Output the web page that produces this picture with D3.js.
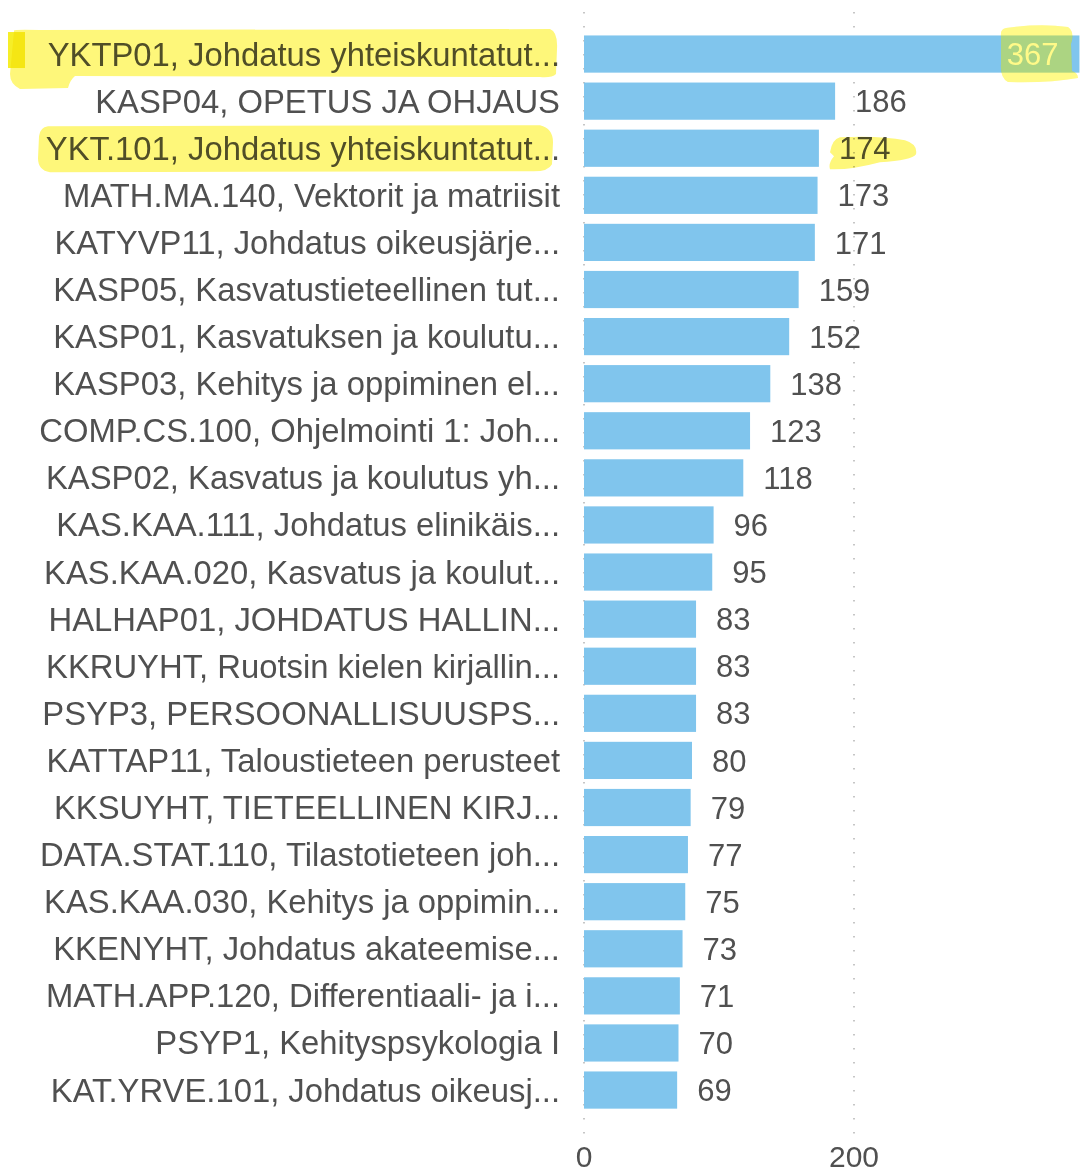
<!DOCTYPE html>
<html>
<head>
<meta charset="utf-8">
<script src="https://cdn.jsdelivr.net/npm/d3@7"></script>
<style>
  html, body { margin: 0; padding: 0; background: #ffffff; }
  svg { display: block; }
  .hl { mix-blend-mode: multiply; }
</style>
</head>
<body>
<svg id="chart" width="1084" height="1175"></svg>
<script>
const categories = [
  "YKTP01, Johdatus yhteiskuntatut...",
  "KASP04, OPETUS JA OHJAUS",
  "YKT.101, Johdatus yhteiskuntatut...",
  "MATH.MA.140, Vektorit ja matriisit",
  "KATYVP11, Johdatus oikeusjärje...",
  "KASP05, Kasvatustieteellinen tut...",
  "KASP01, Kasvatuksen ja koulutu...",
  "KASP03, Kehitys ja oppiminen el...",
  "COMP.CS.100, Ohjelmointi 1: Joh...",
  "KASP02, Kasvatus ja koulutus yh...",
  "KAS.KAA.111, Johdatus elinikäis...",
  "KAS.KAA.020, Kasvatus ja koulut...",
  "HALHAP01, JOHDATUS HALLIN...",
  "KKRUYHT, Ruotsin kielen kirjallin...",
  "PSYP3, PERSOONALLISUUSPS...",
  "KATTAP11, Taloustieteen perusteet",
  "KKSUYHT, TIETEELLINEN KIRJ...",
  "DATA.STAT.110, Tilastotieteen joh...",
  "KAS.KAA.030, Kehitys ja oppimin...",
  "KKENYHT, Johdatus akateemise...",
  "MATH.APP.120, Differentiaali- ja i...",
  "PSYP1, Kehityspsykologia I",
  "KAT.YRVE.101, Johdatus oikeusj..."
];
const values = [367, 186, 174, 173, 171, 159, 152, 138, 123, 118, 96, 95, 83, 83, 83, 80, 79, 77, 75, 73, 71, 70, 69];
const tickValues = [0, 200];
const highlightedRows = [0, 2];

const svg = d3.select("#chart");
const FONT = "'Liberation Sans', Arial, sans-serif";

const x = d3.scaleLinear().domain([0, 370]).range([584, 584 + 370 * 1.35]);
const y = d3.scaleBand().domain(categories).range([30.5, 1113.6]).paddingInner(0.21).paddingOuter(0.105);

// gridlines (dotted)
svg.append("g").selectAll("line").data(tickValues).join("line")
  .attr("x1", d => x(d)).attr("x2", d => x(d))
  .attr("y1", 12).attr("y2", 1136)
  .attr("stroke", "#b8b8b8").attr("stroke-width", 1.6)
  .attr("stroke-dasharray", "1.6,12.4");

// bars
svg.append("g").selectAll("rect").data(values).join("rect")
  .attr("x", x(0))
  .attr("y", (d, i) => y(categories[i]))
  .attr("width", d => x(d) - x(0))
  .attr("height", y.bandwidth())
  .attr("fill", "#80c5ed");

// category labels
svg.append("g").selectAll("text").data(categories).join("text")
  .attr("x", 560)
  .attr("y", d => y(d) + y.bandwidth() / 2)
  .attr("dy", "0.35em")
  .attr("text-anchor", "end")
  .attr("font-family", FONT).attr("font-size", 32.8)
  .attr("fill", "#505050")
  .text(d => d);

// value labels
const insideThreshold = 300;
svg.append("g").selectAll("text").data(values).join("text")
  .attr("x", d => d > insideThreshold ? x(d) - 21 : x(d) + 20)
  .attr("y", (d, i) => y(categories[i]) + y.bandwidth() / 2)
  .attr("dy", "0.36em")
  .attr("text-anchor", d => d > insideThreshold ? "end" : "start")
  .attr("font-family", FONT).attr("font-size", 31)
  .attr("fill", d => d > insideThreshold ? "#ffffff" : "#505050")
  .text(d => d);

// x axis tick labels
svg.append("g").selectAll("text").data(tickValues).join("text")
  .attr("x", d => x(d))
  .attr("y", 1167)
  .attr("text-anchor", "middle")
  .attr("font-family", FONT).attr("font-size", 30)
  .attr("fill", "#505050")
  .text(d => d3.format("d")(d));

// highlighter marks (annotation)
const hl = svg.append("g");
const cy = i => y(categories[i]) + y.bandwidth() / 2;
const c0 = cy(highlightedRows[0]);
const c2 = cy(highlightedRows[1]);

hl.append("path").attr("class", "hl").attr("fill", "#fef77a")
  .attr("d", `M14,${c0-23} Q12,${c0-25} 40,${c0-24} L550,${c0-25} Q558,${c0-22} 557,${c0-5} L556,${c0+20} Q552,${c0+24} 540,${c0+23}
              L75,${c0+22} Q70,${c0+26} 68,${c0+34} L20,${c0+35} Q10,${c0+30} 10,${c0+20} Z`);
hl.append("rect").attr("class", "hl").attr("fill", "#f6ee28")
  .attr("x", 8).attr("y", c0 - 22).attr("width", 17).attr("height", 36);

hl.append("path").attr("class", "hl").attr("fill", "#fef77a")
  .attr("d", `M48,${c2-22} L540,${c2-23} Q553,${c2-20} 553,${c2-6} L552,${c2+16} Q548,${c2+24} 530,${c2+23}
              L50,${c2+24} Q38,${c2+22} 38,${c2+10} L39,${c2-12} Q40,${c2-21} 48,${c2-22} Z`);

const valPath = `M1006,${c0-26} Q1040,${c0-31} 1068,${c0-27} Q1075,${c0-22} 1071,${c0-10} L1072,${c0+17} Q1078,${c0+19} 1078,${c0+24}
              Q1050,${c0+29} 1008,${c0+28} Q1000,${c0+24} 1001,${c0+10} L1001,${c0-18} Q1000,${c0-25} 1006,${c0-26} Z`;
hl.append("path").attr("class", "hl").attr("fill", "#fffa90").attr("d", valPath);
hl.append("path").attr("fill", "#fffa7a").attr("fill-opacity", 0.35).attr("d", valPath);

hl.append("path").attr("class", "hl").attr("fill", "#fef77a")
  .attr("d", `M840,${c2-11} Q880,${c2-13} 905,${c2-8} Q918,${c2-4} 916,${c2+6} Q912,${c2+12} 880,${c2+14}
              Q850,${c2+22} 830,${c2+21} Q828,${c2+15} 834,${c2+8} L830,${c2+4} Q832,${c2-9} 840,${c2-11} Z`);
</script>
</body>
</html>
